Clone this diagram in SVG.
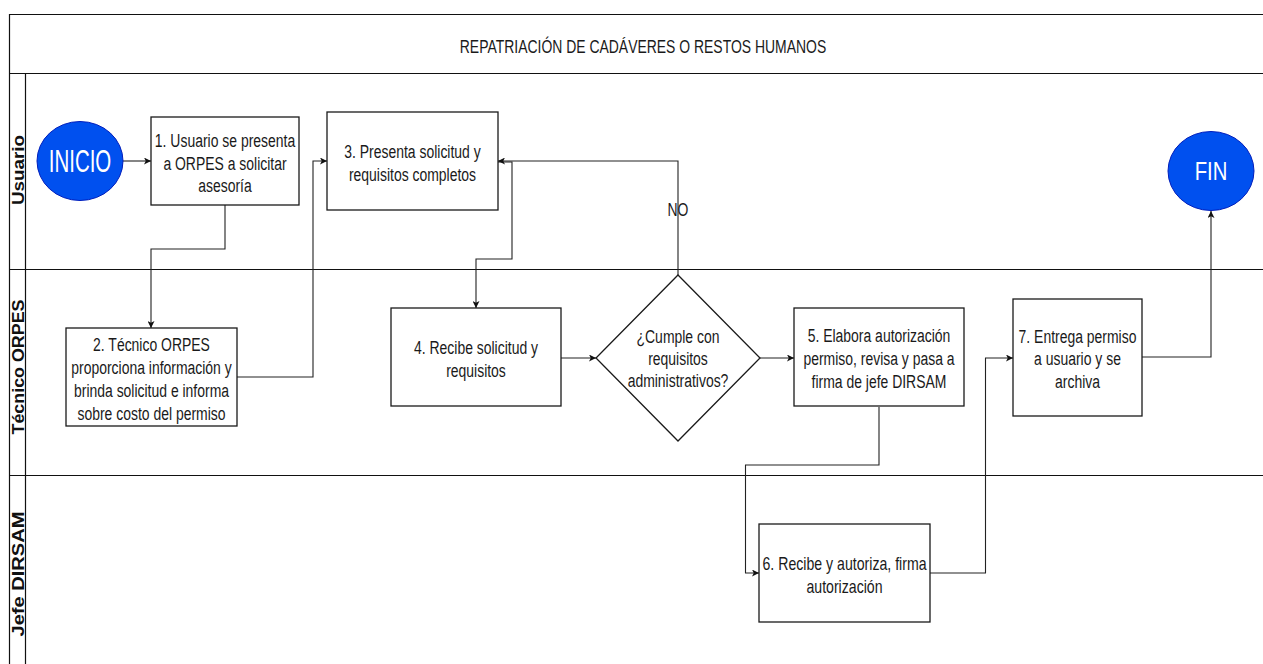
<svg xmlns="http://www.w3.org/2000/svg" width="1263" height="664" viewBox="0 0 1263 664">
  <style>
    .frame { fill: none; stroke: #111; stroke-width: 1.2; }
    .box { fill: #fff; stroke: #1a1a1a; stroke-width: 1.3; }
    .term { fill: #0050EF; stroke: #001DBC; stroke-width: 1; }
    .t { font-family: "Liberation Sans", Arial, sans-serif; font-size: 18px; fill: #1a1a1a; text-anchor: middle; }
    .tw { font-family: "Liberation Sans", Arial, sans-serif; fill: #ffffff; text-anchor: middle; }
    .lane { font-family: "Liberation Sans", Arial, sans-serif; font-size: 16px; font-weight: bold; fill: #111; text-anchor: middle; }
    .conn { fill: none; stroke: #222; stroke-width: 1.1; }
  </style>
  <defs>
    <marker id="arr" viewBox="0 0 8 8" refX="8" refY="4" markerWidth="7" markerHeight="7" markerUnits="userSpaceOnUse" orient="auto">
      <path d="M0,0 L8,4 L0,8 L2,4 Z" fill="#111"/>
    </marker>
  </defs>
  <rect width="1263" height="664" fill="#ffffff"/>

  <g id="frame">
    <path class="frame" d="M1270,14.5 H9.5 V670"/>
    <line class="frame" x1="9.5" y1="73.5" x2="1270" y2="73.5"/>
    <line class="frame" x1="9.5" y1="269.5" x2="1270" y2="269.5"/>
    <line class="frame" x1="9.5" y1="475.5" x2="1270" y2="475.5"/>
    <line class="frame" x1="25.5" y1="73.5" x2="25.5" y2="670"/>
    <text class="t" transform="translate(643,0) scale(0.775,1)" x="0" y="53">REPATRIACIÓN DE CADÁVERES O RESTOS HUMANOS</text>
    <text class="lane" transform="translate(24,170) rotate(-90)" x="0" y="0" textLength="70" lengthAdjust="spacingAndGlyphs">Usuario</text>
    <text class="lane" transform="translate(24,367) rotate(-90)" x="0" y="0" textLength="135" lengthAdjust="spacingAndGlyphs">Técnico ORPES</text>
    <text class="lane" transform="translate(24,574) rotate(-90)" x="0" y="0" textLength="125" lengthAdjust="spacingAndGlyphs">Jefe DIRSAM</text>
  </g>

  <g id="connectors">
    <path class="conn" d="M123,161 H151" marker-end="url(#arr)"/>
    <path class="conn" d="M225,205 V249 H151 V328" marker-end="url(#arr)"/>
    <path class="conn" d="M237,377 H313 V161 H327" marker-end="url(#arr)"/>
    <path class="conn" d="M498,162 H512 V259 H476 V308" marker-end="url(#arr)"/>
    <path class="conn" d="M561,358 H596" marker-end="url(#arr)"/>
    <path class="conn" d="M678,275 V161 H498" marker-end="url(#arr)"/>
    <path class="conn" d="M760,358 H794" marker-end="url(#arr)"/>
    <path class="conn" d="M879,407 V465 H745.5 V573 H759" marker-end="url(#arr)"/>
    <path class="conn" d="M930,573 H985.5 V358 H1013" marker-end="url(#arr)"/>
    <path class="conn" d="M1142,357 H1211 V211" marker-end="url(#arr)"/>
    <text class="t" transform="translate(678,0) scale(0.775,1)" x="0" y="216">NO</text>
  </g>

  <g id="inicio">
    <ellipse class="term" cx="80" cy="161" rx="43" ry="39.5"/>
    <text class="tw" font-size="32" transform="translate(80,0) scale(0.64,1)" x="0" y="172.5">INICIO</text>
  </g>

  <g id="n1">
    <rect class="box" x="151" y="117" width="148" height="88"/>
    <text class="t" transform="translate(225,0) scale(0.775,1)"><tspan x="0" y="147">1. Usuario se presenta</tspan><tspan x="0" y="170">a ORPES a solicitar</tspan><tspan x="0" y="192.5">asesoría</tspan></text>
  </g>

  <g id="n2">
    <rect class="box" x="66" y="328" width="171" height="98"/>
    <text class="t" transform="translate(151.5,0) scale(0.775,1)"><tspan x="0" y="351">2. Técnico ORPES</tspan><tspan x="0" y="374">proporciona información y</tspan><tspan x="0" y="397">brinda solicitud e informa</tspan><tspan x="0" y="420">sobre costo del permiso</tspan></text>
  </g>

  <g id="n3">
    <rect class="box" x="327" y="112" width="171" height="98"/>
    <text class="t" transform="translate(412.5,0) scale(0.775,1)"><tspan x="0" y="158">3. Presenta solicitud y</tspan><tspan x="0" y="181">requisitos completos</tspan></text>
  </g>

  <g id="n4">
    <rect class="box" x="391" y="308" width="170" height="98"/>
    <text class="t" transform="translate(476,0) scale(0.775,1)"><tspan x="0" y="354">4. Recibe solicitud y</tspan><tspan x="0" y="377">requisitos</tspan></text>
  </g>

  <g id="decision">
    <polygon class="box" points="678,275 760,358 678,441 596,358"/>
    <text class="t" transform="translate(678,0) scale(0.775,1)"><tspan x="0" y="343">¿Cumple con</tspan><tspan x="0" y="365">requisitos</tspan><tspan x="0" y="387.5">administrativos?</tspan></text>
  </g>

  <g id="n5">
    <rect class="box" x="794" y="308" width="170" height="98"/>
    <text class="t" transform="translate(879,0) scale(0.775,1)"><tspan x="0" y="342.5">5. Elabora autorización</tspan><tspan x="0" y="365.5">permiso, revisa y pasa a</tspan><tspan x="0" y="388.5">firma de jefe DIRSAM</tspan></text>
  </g>

  <g id="n6">
    <rect class="box" x="759" y="524" width="171" height="98"/>
    <text class="t" transform="translate(844.5,0) scale(0.785,1)"><tspan x="0" y="570">6. Recibe y autoriza, firma</tspan><tspan x="0" y="593">autorización</tspan></text>
  </g>

  <g id="n7">
    <rect class="box" x="1013" y="299" width="129" height="117"/>
    <text class="t" transform="translate(1077.5,0) scale(0.775,1)"><tspan x="0" y="343">7. Entrega permiso</tspan><tspan x="0" y="365.5">a usuario y se</tspan><tspan x="0" y="388.5">archiva</tspan></text>
  </g>

  <g id="fin">
    <ellipse class="term" cx="1211" cy="171" rx="43" ry="39.5"/>
    <text class="tw" font-size="26" transform="translate(1211,0) scale(0.78,1)" x="0" y="180">FIN</text>
  </g>
</svg>
